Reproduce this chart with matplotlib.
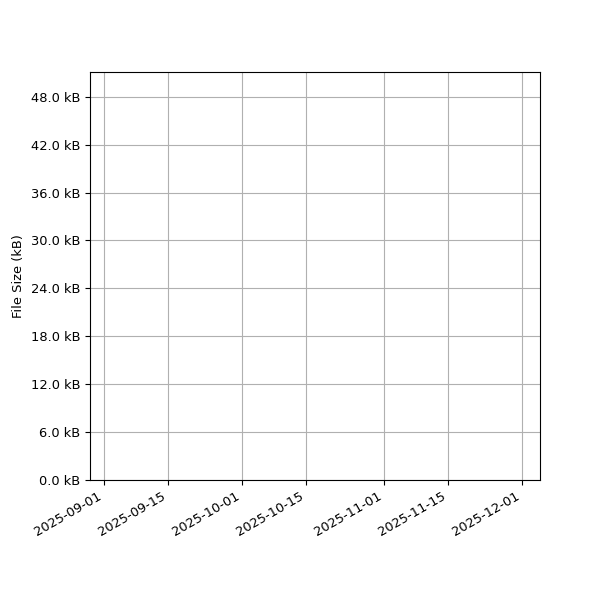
import matplotlib
matplotlib.use('Agg')
import matplotlib.pyplot as plt
import matplotlib.dates as mdates
import matplotlib.ticker as mticker
import numpy as np

plt.rcParams['font.size'] = 9.4

# no data points visible in the chart
dates = np.array([], dtype='datetime64[D]')
sizes_kb = np.array([], dtype=float)

x_start = np.datetime64('2025-08-29')
x_end = np.datetime64('2025-12-04T22:00')
y_max = 51.1

fig, ax = plt.subplots(figsize=(6, 6), dpi=100)
fig.subplots_adjust(left=0.15, right=0.9, top=0.88, bottom=0.2)

ax.plot(dates, sizes_kb, '-o')

ax.set_xlim(x_start, x_end)
ax.set_ylim(0, y_max)
ax.xaxis.set_major_locator(mdates.DayLocator(bymonthday=[1, 15]))
ax.xaxis.set_major_formatter(mdates.DateFormatter('%Y-%m-%d'))
ax.yaxis.set_major_locator(mticker.MultipleLocator(6))
ax.yaxis.set_major_formatter(mticker.FuncFormatter(lambda v, p: f'{v:.1f} kB'))
ax.set_ylabel('File Size (kB)')
ax.grid(True)
for lbl in ax.get_xticklabels():
    lbl.set_rotation(30)
    lbl.set_ha('right')

fig.savefig('out.png')
